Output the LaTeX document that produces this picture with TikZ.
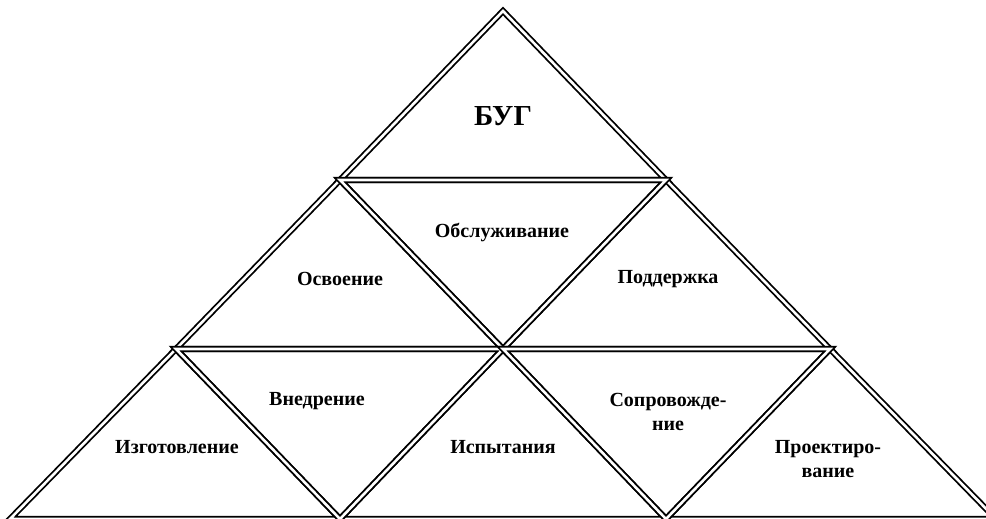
\documentclass[tikz,border=0pt]{standalone}
\usepackage{fontspec}
\setmainfont{Liberation Serif}
\usetikzlibrary{positioning,calc}

\tikzset{
  tri/.style={draw, double, line width=1.8pt, double distance=2.6pt, line join=miter},
  lbl/.style={font=\fontsize{20}{24}\selectfont\bfseries, align=center},
}

\begin{document}
\begin{tikzpicture}[x=1pt,y=-1pt]
\useasboundingbox (0,0) rectangle (986,519);
% vertices of the grid, row by row
\coordinate (v00) at (503,11);
\foreach \x [count=\j from 0] in {340,666} {\coordinate (v1\j) at (\x,180);}
\foreach \x [count=\j from 0] in {176,503,830} {\coordinate (v2\j) at (\x,349);}
\foreach \x [count=\j from 0] in {10,340,666,996} {\coordinate (v3\j) at (\x,519);}
% upward triangles
\foreach \a/\b/\c in {00/10/11,10/20/21,11/21/22,20/30/31,21/31/32,22/32/33} {
    \draw[tri] (v\a) -- (v\b) -- (v\c) -- cycle;
}
% downward triangles
\foreach \a/\b/\c in {10/11/21,20/21/31,21/22/32} {
    \draw[tri,xshift=-1.5pt] (v\a) -- (v\b) -- (v\c) -- cycle;
}
\node (bug) at (503,116) [font=\fontsize{29}{32}\selectfont\bfseries] {БУГ};
\node (obsl) at (502,232) [lbl] {Обслуживание};
\node (osv) at (340,279) [lbl] {Освоение};
\node (podd) at (668,279) [lbl] {Поддержка};
\node (vnedr) at (317,401) [lbl] {Внедрение};
\node (izgot) at (177,447) [lbl] {Изготовление};
\node (isp) at (503,447) [lbl] {Испытания};
\node (sopr) at (668,412) [lbl] {Сопровожде-\\ние};
\node (proekt) at (828,459) [lbl] {Проектиро-\\вание};
\end{tikzpicture}
\end{document}
